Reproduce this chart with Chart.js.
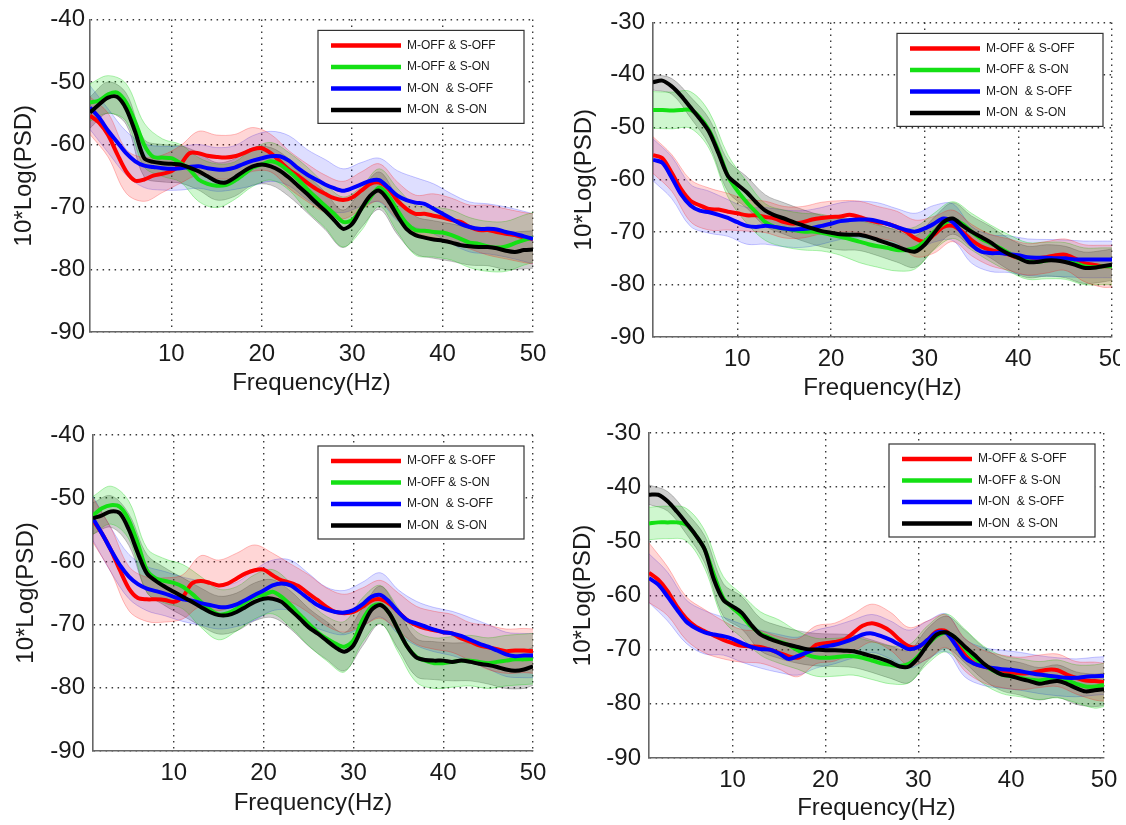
<!DOCTYPE html>
<html>
<head>
<meta charset="utf-8">
<script src="https://cdn.jsdelivr.net/npm/chart.js@4.4.0/dist/chart.umd.min.js"></script>
<style>
html, body { margin: 0; padding: 0; overflow: hidden; background: #fff; width: 1126px; height: 825px; }
.panel { position: absolute; }
.crop { position: absolute; overflow: hidden; }
</style>
</head>
<body>
<div class="panel" style="left:0px;top:0px;width:560px;height:410px"><canvas id="c1"></canvas></div>
<!-- the top right figure is cut at the right edge in the original -->
<div class="crop" style="left:560px;top:0px;width:560px;height:410px">
  <div class="panel" style="left:0px;top:0px;width:600px;height:410px"><canvas id="c2"></canvas></div>
</div>
<div class="panel" style="left:0px;top:410px;width:560px;height:415px"><canvas id="c3"></canvas></div>
<div class="panel" style="left:560px;top:410px;width:566px;height:415px"><canvas id="c4"></canvas></div>
<script>
const freqs = [1,2,3,4,5,6,7,8,9,10,11,12,13,14,15,16,17,18,19,20,21,22,23,24,25,
               26,27,28,29,30,31,32,33,34,35,36,37,38,39,40,41,42,43,44,45,46,47,48,49,50];
// the shaded bands are read at every other frequency
const bandFreqs = [1,3,5,7,9,11,13,15,17,19,21,23,25,27,29,31,33,35,37,39,41,43,45,47,49,50];
const xTicks = [10, 20, 30, 40, 50];
const yTicksLow = [-90, -80, -70, -60, -50, -40];
const yTicksHigh = [-90, -80, -70, -60, -50, -40, -30];
const seriesNames = ['M-OFF & S-OFF', 'M-OFF & S-ON', 'M-ON  & S-OFF', 'M-ON  & S-ON'];

// top left
const p1OffOff = [-55.4,-56.5,-58.5,-61.5,-64.3,-65.8,-65.6,-65.0,-64.7,-64.3,-63.2,-61.4,-61.4,-61.8,-62.0,-62.1,-61.9,-61.4,-60.8,-60.6,-61.4,-62.7,-64.0,-65.0,-66.1,-67.1,-67.9,-68.6,-68.9,-68.5,-67.4,-66.3,-66.1,-67.1,-69.0,-70.3,-71.1,-71.1,-71.4,-71.7,-72.1,-72.4,-73.2,-73.7,-73.7,-74.0,-74.3,-74.5,-74.9,-75.1];
const p1OffOn = [-53.3,-53.0,-52.0,-51.7,-53.3,-56.4,-60.1,-62.0,-62.1,-62.2,-63.0,-64.0,-65.6,-66.3,-66.6,-66.5,-65.8,-64.8,-63.7,-63.2,-62.7,-63.2,-64.3,-65.6,-67.1,-68.5,-69.8,-71.1,-72.4,-72.1,-70.3,-68.5,-66.9,-68.2,-70.5,-72.6,-73.7,-73.8,-74.0,-74.1,-74.5,-75.1,-75.7,-75.9,-76.3,-76.5,-76.3,-75.8,-75.3,-74.9];
const p1OnOff = [-54.1,-55.7,-57.8,-59.6,-61.4,-62.7,-63.4,-63.6,-63.8,-63.9,-63.8,-63.6,-63.5,-63.8,-64.0,-64.0,-63.7,-63.1,-62.6,-62.2,-61.9,-61.9,-62.6,-63.8,-64.8,-65.6,-66.4,-67.0,-67.4,-67.0,-66.4,-65.8,-65.7,-66.9,-68.2,-68.9,-69.3,-69.5,-70.3,-71.1,-71.9,-72.7,-73.2,-73.5,-73.5,-73.6,-74.0,-74.3,-74.7,-75.1];
const p1OnOn = [-54.9,-53.6,-52.5,-52.4,-54.3,-58.0,-62.2,-62.8,-63.0,-63.1,-63.2,-63.7,-64.3,-65.1,-65.9,-66.1,-65.3,-64.3,-63.5,-63.2,-63.5,-64.2,-65.3,-66.6,-67.9,-69.3,-70.6,-72.1,-73.5,-72.7,-70.3,-68.2,-67.4,-69.0,-71.4,-73.5,-74.5,-74.9,-75.2,-75.4,-75.7,-76.1,-76.3,-76.4,-76.4,-76.6,-77.0,-77.2,-76.9,-76.8];
const p1OffOffSd = [3,3.5,3.5,3.5,3,3,3.5,3.5,3.5,3.5,3,3,3,3,3,3,3,3,3,3.5,3.5,3.5,4,4,4,4];
const p1OffOnSd = [3,3,3,3.5,3,3,3.5,3.5,3,3,3,3,3.5,3.5,4,3.5,3,3.5,4,4,4,4,4,4,4,4];
const p1OnOffSd = [3.5,3.5,3.5,3.5,3.5,3.5,3.5,3.5,3.5,4,4,4,4,4,3.5,3.5,3.5,4,4,4,4,4,4,4,4,4];
const p1OnOnSd = [2.5,2.5,2.5,3,3,3,3,3,3,3,3,3,3,3,3,3,3,3,3,3,3,3,3,3,3,3];

// top right
const p2OffOff = [-55.3,-55.9,-58.7,-61.8,-64.0,-64.9,-65.6,-65.7,-66.1,-66.4,-66.8,-66.8,-67.1,-67.4,-68.1,-68.4,-68.1,-67.6,-67.3,-67.1,-67.0,-66.7,-67.1,-67.7,-68.1,-68.4,-69.0,-69.9,-71.2,-71.8,-70.5,-69.0,-68.8,-69.9,-71.5,-72.7,-73.4,-73.8,-74.3,-74.9,-75.2,-75.0,-74.8,-74.4,-74.3,-75.0,-75.9,-76.2,-76.5,-76.5];
const p2OffOn = [-46.7,-46.7,-46.8,-46.7,-46.7,-48.1,-50.6,-54.6,-59.3,-62.1,-64.3,-66.2,-68.1,-69.0,-69.3,-69.6,-69.9,-69.9,-70.1,-70.5,-70.9,-71.3,-71.8,-72.3,-72.7,-73.0,-73.4,-73.4,-73.0,-71.8,-69.9,-68.4,-67.7,-68.4,-69.9,-71.2,-72.1,-73.0,-74.0,-74.9,-75.5,-75.7,-75.4,-75.2,-75.5,-75.9,-76.5,-76.7,-76.5,-76.5];
const p2OnOff = [-56.2,-56.8,-59.6,-62.8,-64.9,-65.9,-66.2,-66.7,-67.3,-68.1,-68.8,-69.0,-68.8,-69.0,-69.3,-69.5,-69.4,-69.2,-68.8,-68.4,-67.9,-67.7,-67.6,-67.6,-67.9,-68.4,-69.0,-69.6,-69.9,-69.3,-68.4,-67.4,-68.1,-70.2,-72.4,-73.7,-74.0,-74.0,-74.2,-74.4,-74.8,-74.9,-74.9,-75.0,-75.0,-75.2,-75.2,-75.2,-75.2,-75.2];
const p2OnOn = [-41.4,-41.1,-42.2,-44.0,-46.2,-48.4,-50.9,-55.0,-59.3,-60.9,-62.4,-64.3,-65.9,-66.8,-67.4,-68.1,-68.7,-69.3,-69.8,-70.1,-70.4,-70.5,-70.5,-70.9,-71.5,-72.1,-72.7,-73.4,-73.7,-72.4,-70.2,-68.1,-67.4,-68.7,-69.9,-70.9,-71.9,-73.2,-74.2,-74.9,-75.7,-75.7,-75.4,-75.4,-75.7,-76.2,-76.8,-76.8,-76.5,-76.2];
const p2OffOffSd = [3.5,3.5,4,4,3.5,3,3,3,3,3,3,3,3,3,3.5,3.5,3,3,3,3,3,3,3,3.5,4,4];
const p2OffOnSd = [3.5,3.5,3.5,3.5,4,4,3.5,3.5,3.5,3.5,3.5,4,4,4,4,3.5,3.5,3.5,3.5,3.5,3.5,3.5,3.5,3.5,3.5,3.5];
const p2OnOffSd = [4,4,4,4,3.5,3.5,3.5,3.5,3.5,3.5,3.5,3.5,3.5,3.5,3.5,3.5,3.5,3.5,3.5,3.5,3.5,3.5,3.5,3.5,3.5,3.5];
const p2OnOnSd = [1.5,1.5,2,2.5,3,3,3,3,3,3,3,3,3,3,3,3,3,3,3,3,3,3,3,3,3,3];

// bottom left
const p3OffOff = [-53.5,-55.6,-58.2,-61.4,-64.3,-65.8,-66.0,-66.0,-66.1,-66.4,-65.6,-63.5,-63.1,-63.4,-63.8,-63.5,-62.7,-61.9,-61.4,-61.3,-62.2,-63.0,-63.4,-64.0,-65.1,-66.1,-67.2,-68.0,-68.2,-68.0,-67.2,-66.2,-66.0,-66.7,-68.0,-69.3,-70.1,-70.6,-70.9,-71.2,-71.4,-72.2,-72.7,-73.3,-73.6,-73.9,-74.2,-74.1,-74.1,-74.2];
const p3OffOn = [-52.7,-51.6,-51.1,-51.4,-53.5,-57.2,-61.4,-62.7,-63.1,-63.4,-64.0,-65.1,-66.4,-67.6,-68.4,-68.2,-67.5,-66.4,-65.6,-65.3,-64.8,-65.6,-66.9,-68.4,-69.8,-71.2,-72.2,-73.0,-73.5,-72.5,-69.3,-67.2,-66.8,-68.2,-70.9,-73.5,-75.1,-75.7,-76.1,-76.1,-75.9,-75.7,-75.7,-75.9,-76.1,-75.9,-75.7,-75.5,-75.5,-75.4];
const p3OnOff = [-53.2,-55.6,-58.2,-60.6,-62.4,-63.6,-64.3,-64.7,-65.1,-65.6,-66.0,-66.2,-66.6,-66.9,-67.2,-67.2,-66.8,-66.1,-65.3,-64.6,-63.8,-63.5,-63.8,-64.8,-65.9,-66.9,-67.6,-68.0,-68.1,-67.7,-66.8,-65.6,-65.3,-66.4,-68.0,-69.3,-69.8,-70.3,-70.8,-71.2,-71.4,-71.8,-72.4,-73.0,-73.5,-74.1,-74.7,-75.0,-74.9,-74.9];
const p3OnOn = [-53.2,-52.7,-52.1,-52.4,-55.0,-58.7,-61.9,-63.1,-64.0,-64.8,-65.6,-66.4,-67.2,-68.0,-68.5,-68.5,-68.0,-67.2,-66.4,-65.9,-65.9,-66.4,-67.7,-69.0,-70.4,-71.4,-72.5,-73.6,-74.3,-73.3,-70.4,-67.7,-66.9,-68.2,-70.9,-73.5,-75.2,-75.6,-75.7,-75.7,-75.9,-75.7,-75.9,-76.2,-76.4,-76.7,-77.1,-77.3,-77.1,-76.6];
const p3OffOffSd = [3.5,3.5,3.5,3.5,3.5,3.5,4,4,4,4,3.5,3,3,3,3,3,3,3,3,3,3,3,3.5,3.5,3.5,3.5];
const p3OffOnSd = [3,3,3,3.5,3.5,3.5,4,4,3.5,3.5,3.5,3.5,3.5,3.5,4,3.5,3,3.5,4,4,4,4,4,4,4,4];
const p3OnOffSd = [3.5,3.5,3.5,3.5,3.5,3.5,3.5,3.5,3.5,4,4,4,4,3.5,3.5,3.5,3.5,3.5,3.5,3.5,3.5,3.5,3.5,3.5,3.5,3.5];
const p3OnOnSd = [2.5,2.5,2.5,3,3,3,3,3,3,3,3,3,3,3,3,3,3,3,3,3,3,3,3,3,3,3];

// bottom right
const p4OffOff = [-55.8,-57.1,-59.2,-62.0,-64.2,-65.7,-66.6,-67.4,-68.2,-68.8,-69.3,-69.4,-69.5,-70.0,-70.6,-71.2,-71.5,-70.6,-69.1,-68.8,-68.6,-68.2,-66.9,-65.6,-65.1,-65.6,-66.6,-68.2,-69.4,-69.5,-68.2,-66.6,-66.6,-68.5,-70.9,-72.5,-73.1,-73.6,-74.0,-74.3,-74.4,-74.3,-74.0,-73.7,-73.8,-74.6,-75.2,-75.7,-75.8,-76.0];
const p4OffOn = [-46.7,-46.5,-46.5,-46.5,-46.9,-48.8,-51.5,-56.2,-60.5,-62.3,-63.8,-65.7,-67.0,-67.8,-68.5,-69.1,-70.1,-70.9,-71.4,-71.5,-71.4,-71.2,-71.2,-71.5,-72.0,-72.5,-72.8,-73.0,-72.6,-71.2,-69.1,-67.5,-66.9,-67.8,-69.7,-71.5,-72.8,-73.8,-74.6,-74.9,-75.2,-75.5,-75.7,-75.4,-75.4,-75.7,-76.3,-76.8,-76.8,-76.5];
const p4OnOff = [-56.8,-58.0,-60.2,-62.6,-64.8,-66.0,-66.8,-67.2,-67.5,-68.0,-68.8,-69.5,-69.9,-70.0,-70.7,-71.7,-71.2,-70.5,-69.9,-69.4,-69.1,-68.6,-68.0,-67.2,-67.0,-67.5,-68.2,-69.1,-69.9,-69.5,-68.2,-66.8,-66.9,-69.1,-71.5,-72.6,-73.1,-73.4,-73.6,-73.7,-74.0,-74.3,-74.6,-74.8,-75.0,-75.2,-75.2,-75.0,-74.9,-74.8];
const p4OnOn = [-41.4,-41.4,-42.6,-44.5,-46.6,-48.8,-51.5,-57.1,-60.8,-62.0,-63.2,-65.4,-67.2,-68.0,-68.6,-69.1,-69.5,-69.9,-70.0,-70.1,-70.1,-70.2,-70.3,-70.7,-71.2,-71.7,-72.3,-73.1,-73.1,-71.5,-69.1,-67.2,-66.8,-67.8,-69.4,-70.9,-72.5,-73.7,-74.6,-74.9,-75.4,-75.8,-76.3,-76.0,-75.8,-76.3,-77.1,-77.7,-77.5,-77.3];
const p4OffOffSd = [5.5,4.5,4,4,3.5,3,3,3,3.5,3.5,3.5,3.5,3.5,3.5,3.5,3.5,3,3,3,3,3,3,3,3,3.5,3.5];
const p4OffOnSd = [3,3,3,3.5,4,4,4,4,3.5,3.5,3.5,3.5,3.5,3.5,3.5,3.5,3.5,3.5,3.5,3.5,3.5,3.5,3.5,3.5,4,4];
const p4OnOffSd = [4.5,4.5,4,4,3.5,3.5,3.5,3.5,3.5,3.5,3.5,3.5,3.5,3.5,3.5,3.5,3.5,3.5,3.5,3.5,3.5,3.5,3.5,3.5,3.5,3.5];
const p4OnOnSd = [1.8,1.8,2,2.5,3,3,3,3,3,3,3,3,3,3,3,3,3,3,3,3,3,3,3,3,3,3];

const lineColors = ['#ff0000', '#14e014', '#0000ff', '#000000'];
const bandFills = ['rgba(255,0,0,0.16)', 'rgba(0,210,0,0.19)', 'rgba(0,0,255,0.13)', 'rgba(0,0,0,0.19)'];
const bandEdges = ['rgba(255,0,0,0.25)', 'rgba(0,210,0,0.3)', 'rgba(0,0,255,0.22)', 'rgba(0,0,0,0.22)'];
const FONT = "'Liberation Sans', Arial, sans-serif";
const TEXT = '#1a1a1a';

// matlab style legend box inside the axes, top right
const boxLegend = {
    id: 'boxLegend',
    afterDatasetsDraw(chart) {
        const { ctx, chartArea } = chart;
        const w = 206, h = 93;
        const x0 = chartArea.right - 9 - w;
        const y0 = chartArea.top + 11;
        ctx.save();
        ctx.fillStyle = '#fff';
        ctx.fillRect(x0, y0, w, h);
        ctx.strokeStyle = '#333';
        ctx.lineWidth = 1.2;
        ctx.strokeRect(x0, y0, w, h);
        ctx.font = '12px ' + FONT;
        ctx.textBaseline = 'middle';
        seriesNames.forEach((name, k) => {
            const y = y0 + 15 + k * 21.5;
            ctx.strokeStyle = lineColors[k];
            ctx.lineWidth = 4.5;
            ctx.beginPath();
            ctx.moveTo(x0 + 13, y);
            ctx.lineTo(x0 + 83, y);
            ctx.stroke();
            ctx.fillStyle = TEXT;
            ctx.fillText(name, x0 + 89, y);
        });
        ctx.restore();
    }
};

function makePanel(id, means, sds, yTicks, lay) {
    const datasets = [];
    means.forEach((m, k) => {
        const hi = bandFreqs.map((f, i) => ({ x: f, y: m[f - 1] + sds[k][i] }));
        const lo = bandFreqs.map((f, i) => ({ x: f, y: m[f - 1] - sds[k][i] }));
        datasets.push({ data: hi, fill: '+1', backgroundColor: bandFills[k], borderColor: bandEdges[k],
            borderWidth: 1, pointRadius: 0, tension: 0.35, order: 10 + k, clip: 0 });
        datasets.push({ data: lo, fill: false, borderColor: bandEdges[k],
            borderWidth: 1, pointRadius: 0, tension: 0.35, order: 10 + k, clip: 0 });
    });
    means.forEach((m, k) => {
        datasets.push({ label: seriesNames[k], data: freqs.map((f, i) => ({ x: f, y: m[i] })),
            borderColor: lineColors[k], borderWidth: 4, pointRadius: 0, tension: 0.3,
            fill: false, order: 4 - k });
    });

    return new Chart(document.getElementById(id), {
        type: 'line',
        data: { datasets: datasets },
        plugins: [boxLegend],
        options: {
            responsive: true,
            maintainAspectRatio: false,
            animation: false,
            events: [],
            layout: { autoPadding: false, padding: { left: 0, top: lay.top, right: lay.right, bottom: 0 } },
            plugins: { legend: { display: false }, tooltip: { enabled: false } },
            scales: {
                x: {
                    type: 'linear', min: 1, max: 50,
                    afterBuildTicks: s => { s.ticks = xTicks.map(v => ({ value: v })); },
                    afterFit: s => { s.height = lay.axisH; },
                    grid: { color: '#3a3a3a', lineWidth: 1.4, drawTicks: false },
                    border: { color: '#666', width: 1.6, dash: [1.5, 4.5] },
                    ticks: { padding: 8, color: TEXT, font: { family: FONT, size: 24 },
                             maxRotation: 0, autoSkip: false, callback: v => String(v) },
                    title: { display: true, text: 'Frequency(Hz)', color: TEXT,
                             font: { family: FONT, size: 24 }, padding: { top: 0, bottom: lay.xTitlePad } }
                },
                y: {
                    min: yTicks[0], max: yTicks[yTicks.length - 1],
                    afterBuildTicks: s => { s.ticks = yTicks.map(v => ({ value: v })); },
                    afterFit: s => { s.width = lay.axisW; },
                    grid: { color: '#3a3a3a', lineWidth: 1.4, drawTicks: false },
                    border: { color: '#666', width: 1.6, dash: [1.5, 4.5] },
                    ticks: { padding: lay.yTickPad, color: TEXT, font: { family: FONT, size: 24 }, callback: v => String(v) },
                    title: { display: true, text: '10*Log(PSD)', color: TEXT,
                             font: { family: FONT, size: 24 }, padding: { top: lay.yTitlePad, bottom: 0 } }
                }
            }
        }
    });
}

makePanel('c1', [p1OffOff, p1OffOn, p1OnOff, p1OnOn], [p1OffOffSd, p1OffOnSd, p1OnOffSd, p1OnOnSd], yTicksLow,
    { top: 16, right: 27, axisW: 90, axisH: 78, xTitlePad: 12, yTitlePad: 10, yTickPad: 5 });
makePanel('c2', [p2OffOff, p2OffOn, p2OnOff, p2OnOn], [p2OffOffSd, p2OffOnSd, p2OnOffSd, p2OnOnSd], yTicksHigh,
    { top: 17, right: 48, axisW: 93, axisH: 73, xTitlePad: 7, yTitlePad: 10, yTickPad: 8 });
makePanel('c3', [p3OffOff, p3OffOn, p3OnOff, p3OnOn], [p3OffOffSd, p3OffOnSd, p3OnOffSd, p3OnOnSd], yTicksLow,
    { top: 25, right: 27, axisW: 93, axisH: 74, xTitlePad: 7, yTitlePad: 12, yTickPad: 8 });
makePanel('c4', [p4OffOff, p4OffOn, p4OnOff, p4OnOn], [p4OffOffSd, p4OffOnSd, p4OnOffSd, p4OnOnSd], yTicksHigh,
    { top: 23, right: 22, axisW: 89, axisH: 67, xTitlePad: 2, yTitlePad: 9, yTickPad: 8 });
</script>
</body>
</html>
